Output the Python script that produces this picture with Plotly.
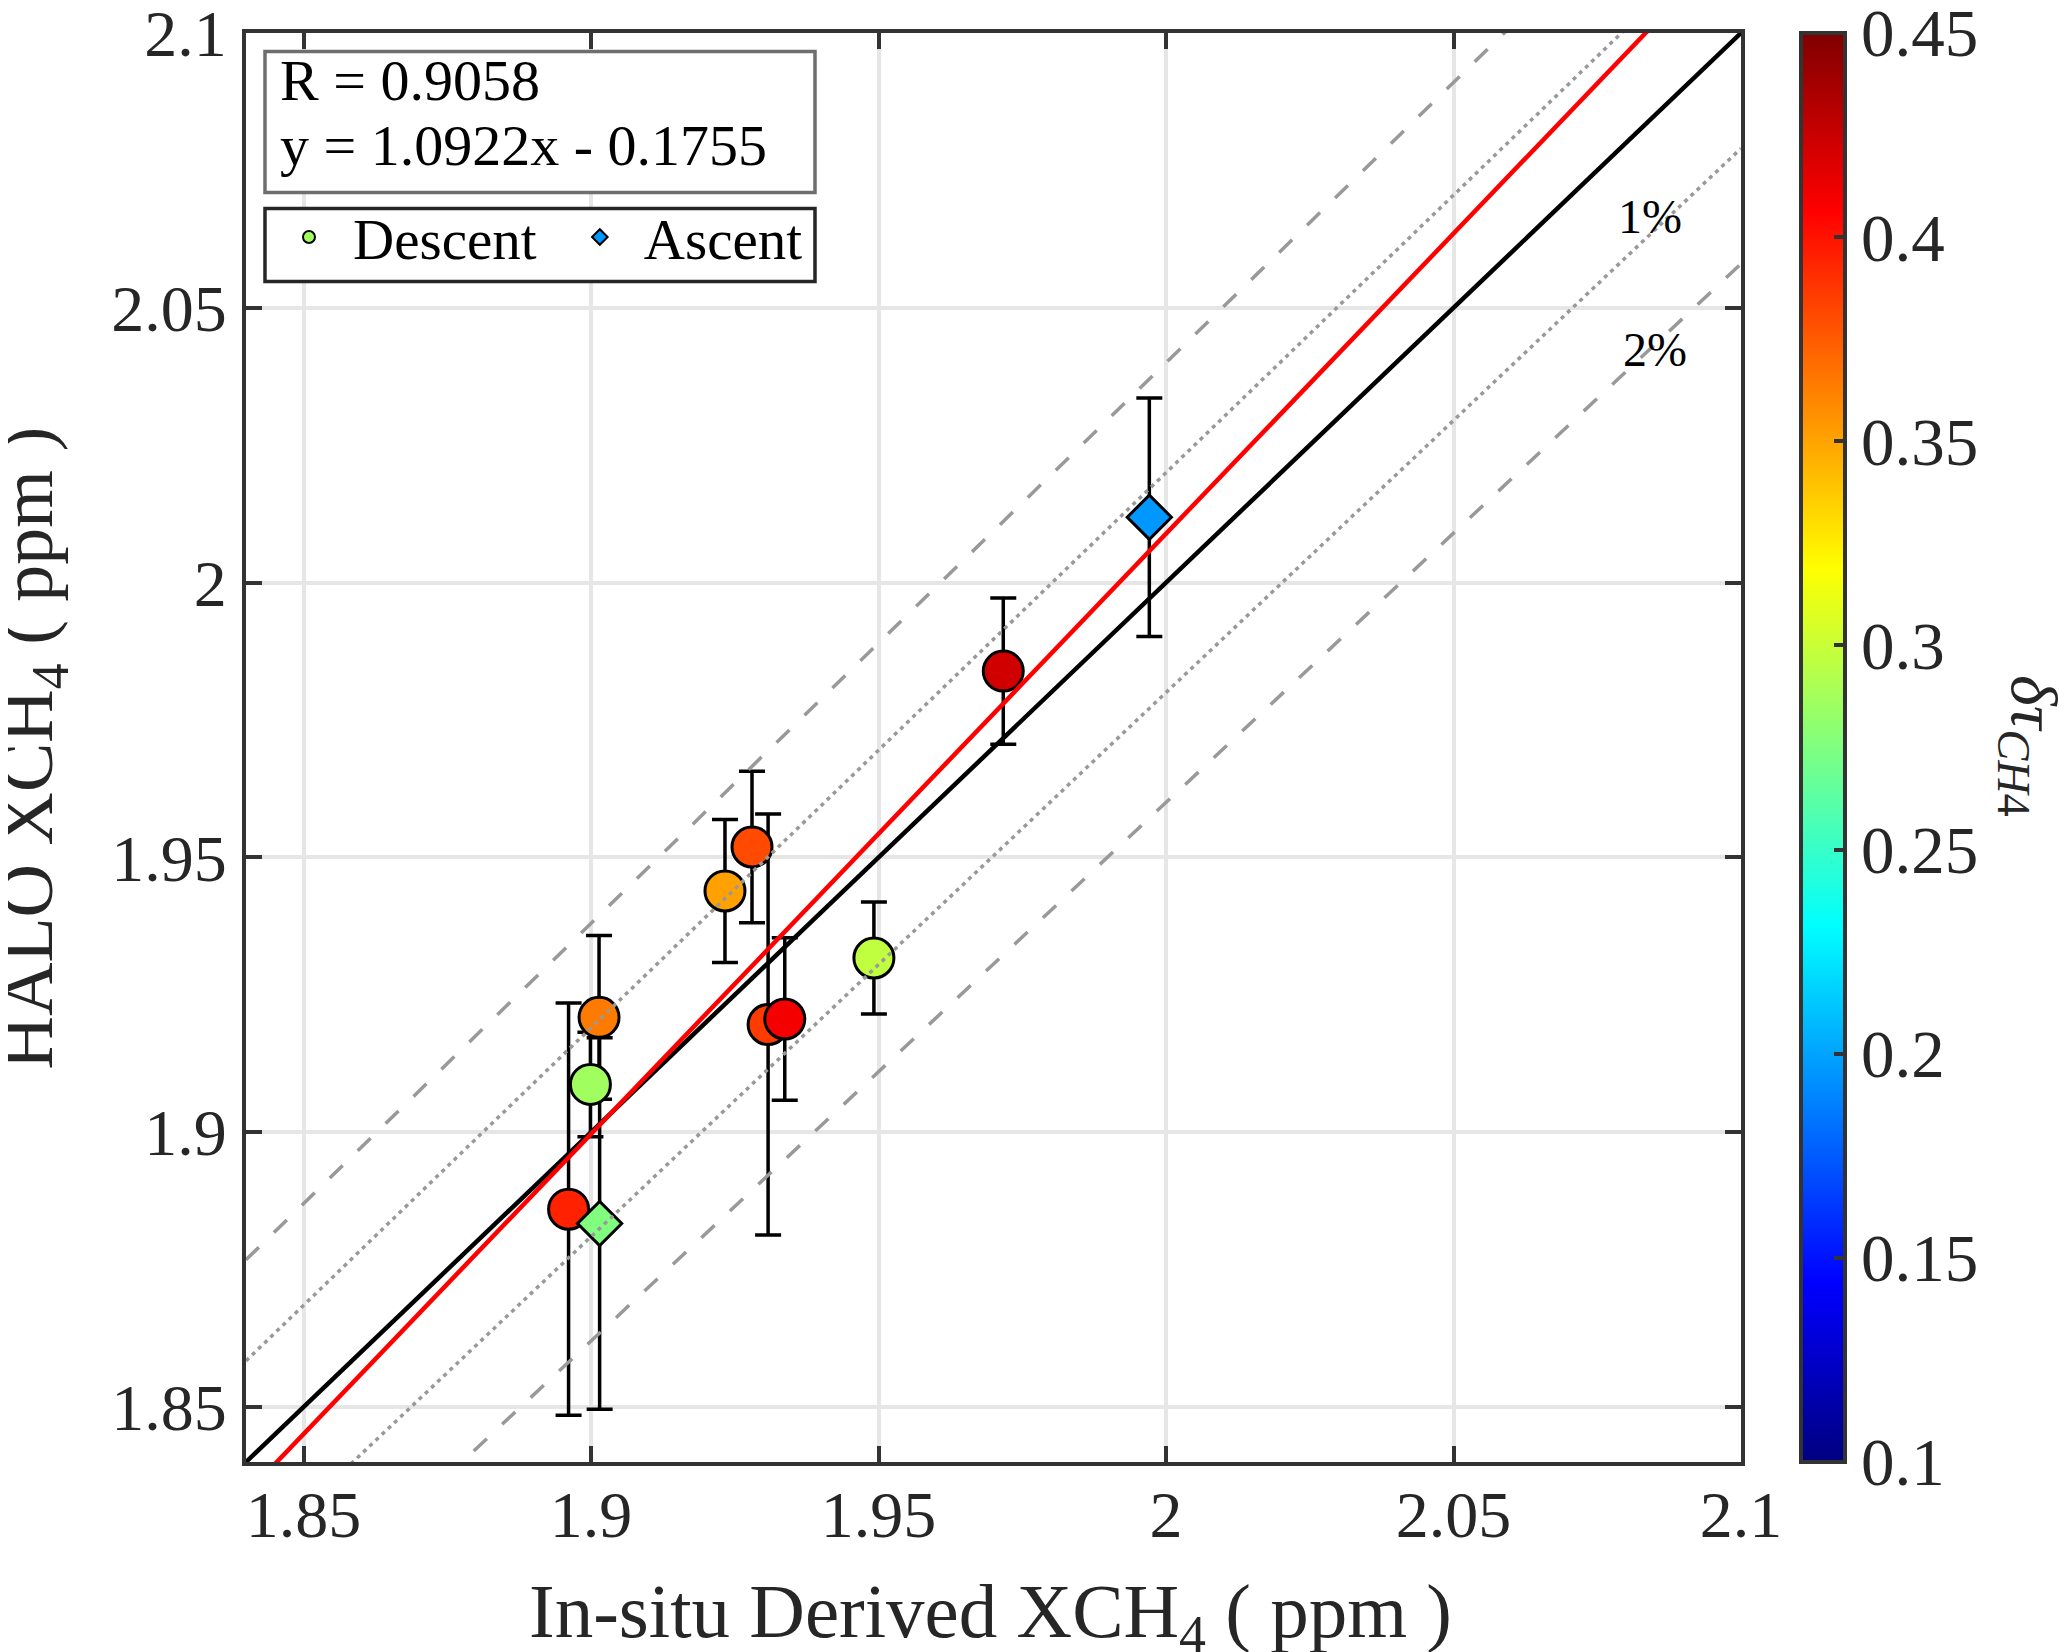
import plotly.graph_objects as go

# descent points (circles)
desc_x = [1.8999, 1.8961, 1.9014, 1.9233, 1.9280, 1.9308, 1.9337, 1.9492, 1.9717]
desc_y = [1.9087, 1.8860, 1.9209, 1.9439, 1.9519, 1.9196, 1.9206, 1.9317, 1.9839]
desc_err = [0.0095, 0.0375, 0.0149, 0.0130, 0.0138, 0.0383, 0.0148, 0.0102, 0.0133]
desc_tau = [0.286, 0.395, 0.364, 0.351, 0.381, 0.386, 0.410, 0.297, 0.4225]

# ascent points (diamonds)
asc_x = [1.9971, 1.9015]
asc_y = [2.0119, 1.8834]
asc_err = [0.0217, 0.0338]
asc_tau = [0.196, 0.275]

# fit from the figure text
R_VALUE = 0.9058
SLOPE = 1.0922
INTERCEPT = -0.1755

AX_RANGE = [1.84, 2.1]
ticks = [1.85, 1.9, 1.95, 2.0, 2.05, 2.1]
tick_text = ["1.85", "1.9", "1.95", "2", "2.05", "2.1"]
cb_ticks = [0.1, 0.15, 0.2, 0.25, 0.3, 0.35, 0.4, 0.45]
cb_text = ["0.1", "0.15", "0.2", "0.25", "0.3", "0.35", "0.4", "0.45"]
pct_levels = [1, 2]

FONT = "Liberation Serif"
TXT = "#262626"
jet = [[0, "#000080"], [0.125, "#0000ff"], [0.375, "#00ffff"],
       [0.625, "#ffff00"], [0.875, "#ff0000"], [1, "#800000"]]

fig = go.Figure()

# error bars first (MATLAB draws them under the markers)
for xs, ys, es in [(desc_x, desc_y, desc_err), (asc_x, asc_y, asc_err)]:
    fig.add_trace(go.Scatter(
        x=xs, y=ys, mode="markers",
        marker=dict(size=1, color="rgba(0,0,0,0)"),
        error_y=dict(type="data", array=es, visible=True,
                     color="black", thickness=3.5, width=13),
        showlegend=False, hoverinfo="skip"))

marker_common = dict(colorscale=jet, cmin=0.1, cmax=0.45,
                     line=dict(color="black", width=3))

fig.add_trace(go.Scatter(
    x=desc_x, y=desc_y, mode="markers", name="Descent\u00a0",
    marker=dict(symbol="circle", size=40, color=desc_tau, **marker_common,
                colorbar=dict(
                    x=1.040, xanchor="left", y=0.5, yanchor="middle",
                    len=1, lenmode="fraction", ypad=0, xpad=0,
                    thickness=44, outlinewidth=4, outlinecolor="#333333",
                    tickvals=cb_ticks, ticktext=cb_text, ticklabeloverflow="allow",
                    ticks="inside", ticklen=13, tickwidth=4, tickcolor="#333333",
                    tickfont=dict(family=FONT, size=67, color=TXT)))))

fig.add_trace(go.Scatter(
    x=asc_x, y=asc_y, mode="markers", name="Ascent",
    marker=dict(symbol="diamond", size=34, color=asc_tau, **marker_common)))

# reference lines: +-1 % dotted, +-2 % dashed, 1:1 and the fit
lx = AX_RANGE
for p in pct_levels:
    dash = "4px,4.5px" if p == 1 else "18px,21px"
    for s in (1, -1):
        f = 1 + s * p / 100
        fig.add_trace(go.Scatter(
            x=lx, y=[v * f for v in lx], mode="lines",
            line=dict(color="#999999", width=3.5, dash=dash),
            showlegend=False, hoverinfo="skip"))

fig.add_trace(go.Scatter(
    x=lx, y=lx, mode="lines", line=dict(color="black", width=4.5),
    showlegend=False, hoverinfo="skip"))
fig.add_trace(go.Scatter(
    x=lx, y=[SLOPE * v + INTERCEPT for v in lx], mode="lines",
    line=dict(color="#ff0000", width=4.5),
    showlegend=False, hoverinfo="skip"))

axis_common = dict(
    range=AX_RANGE, tickvals=ticks, ticktext=tick_text,
    showgrid=True, gridcolor="#e6e6e6", gridwidth=3.5,
    showline=True, linecolor="#333333", linewidth=4, mirror="ticks",
    ticks="inside", ticklen=16, tickwidth=4, tickcolor="#333333",
    ticklabeloverflow="allow",
    tickfont=dict(family=FONT, size=66, color=TXT), zeroline=False)

box_font = dict(family=FONT, size=58, color="black")

fig.update_layout(
    width=2067, height=1652, autosize=False,
    margin=dict(l=238, r=334, t=25, b=198, autoexpand=False),
    paper_bgcolor="white", plot_bgcolor="white",
    font=dict(family=FONT, color=TXT),
    xaxis=dict(**axis_common, ticklabelstandoff=-8),
    yaxis=dict(**axis_common, ticklabelstandoff=2),
    legend=dict(orientation="h", x=0.0127, y=0.8877, xanchor="left", yanchor="top",
                bgcolor="rgba(0,0,0,0)", borderwidth=0,
                font=dict(family=FONT, size=57, color="black"),
                itemsizing="constant", itemwidth=78),
    shapes=[
        # text box with R and fit equation
        dict(type="rect", xref="paper", yref="paper",
             x0=0.0127, x1=0.3806, y0=0.8884, y1=0.987,
             line=dict(color="#6e6e6e", width=3.5), fillcolor="white",
             layer="above"),
        # frame behind the legend
        dict(type="rect", xref="paper", yref="paper",
             x0=0.0127, x1=0.3806, y0=0.8261, y1=0.8772,
             line=dict(color="#262626", width=3.5), fillcolor="white",
             layer="above"),
    ],
    annotations=[
        dict(xref="paper", yref="paper", x=0.0214, y=0.9668,
             xanchor="left", yanchor="middle", align="left",
             text=f"R = {R_VALUE:.4f}", font=box_font, showarrow=False),
        dict(xref="paper", yref="paper", x=0.0214, y=0.9213,
             xanchor="left", yanchor="middle", align="left",
             text=f"y = {SLOPE:.4f}x - {abs(INTERCEPT):.4f}",
             font=box_font, showarrow=False),
        dict(x=2.0842, y=2.0666, text="1%", showarrow=False,
             font=dict(family=FONT, size=48, color="black")),
        dict(x=2.085, y=2.0424, text="2%", showarrow=False,
             font=dict(family=FONT, size=48, color="black")),
        dict(xref="paper", yref="paper", x=0.4983, y=-0.108,
             text="In-situ Derived XCH<sub>4</sub> ( ppm )", showarrow=False,
             xanchor="center", yanchor="middle",
             font=dict(family=FONT, size=77, color=TXT)),
        dict(xref="paper", yref="paper", x=-0.1425, y=0.5, textangle=-90,
             text="HALO XCH<sub>4</sub> ( ppm )", showarrow=False,
             xanchor="center", yanchor="middle",
             font=dict(family=FONT, size=74, color=TXT)),
        dict(xref="paper", yref="paper", x=1.1933, y=0.501, textangle=90,
             text="<i>δτ</i><sub><i>CH</i>4</sub>", showarrow=False,
             xanchor="center", yanchor="middle",
             font=dict(family=FONT, size=66, color=TXT)),
    ])

fig.write_html("out.html")
